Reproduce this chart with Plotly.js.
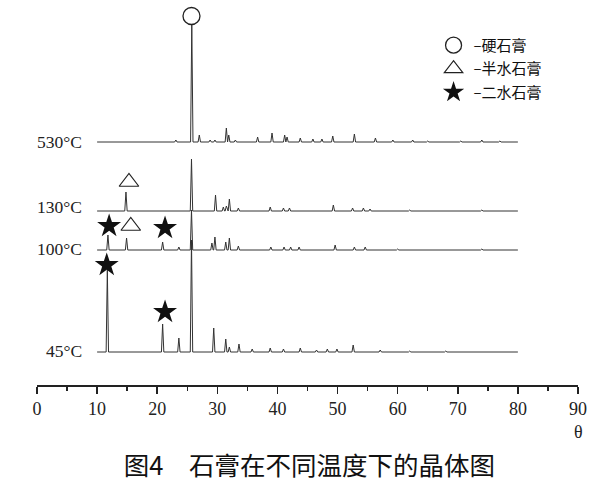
<!DOCTYPE html>
<html><head><meta charset="utf-8">
<script src="https://cdn.plot.ly/plotly-3.0.1.min.js"></script>
<style>body{margin:0;background:#fff}#chart{width:596px;height:490px}</style>
</head><body><div id="chart"></div>
<script>
// Series labels
const seriesNames = ['45°C', '100°C', '130°C', '530°C'];
// 2θ range covered by each scan
const thetaStart = 10, thetaEnd = 80;
// Peak positions (2θ) and peak heights above each pattern's baseline
const peaks45Theta  = [11.7, 20.9, 23.6, 25.7, 29.4, 31.4, 32.0, 33.6, 35.8, 38.8, 41.0, 43.8, 46.5, 48.3, 49.9, 52.6, 57.1, 62.0, 68.0];
const peaks45Int    = [82,   28,   14,   112,  24,   13,   5,    8,    3,    4,    3,    4,    2,    3,    3,    7,    2,    1,    1];
const peaks100Theta = [11.8, 14.9, 20.9, 23.6, 25.7, 29.1, 29.6, 31.4, 32.0, 33.5, 38.9, 41.1, 42.2, 43.6, 49.6, 52.8, 54.6, 60.0, 74.0];
const peaks100Int   = [15,   12,   8,    3,    40,   7,    13,   8,    12,   4,    3,    3,    3,    3,    5,    3,    3,    1,    1];
const peaks130Theta = [14.8, 25.7, 29.7, 31.0, 31.5, 32.0, 33.5, 38.8, 41.0, 42.0, 49.3, 52.5, 54.3, 55.4, 62.0, 74.0];
const peaks130Int   = [19,   52,   16,   4,    5,    12,   3,    4,    3,    3,    6,    3,    3,    2,    1,    1];
const peaks530Theta = [23.1, 25.75, 27.0, 28.8, 29.6, 31.5, 31.9, 33.0, 36.7, 39.1, 41.2, 41.6, 43.8, 45.9, 47.4, 49.2, 52.8, 56.3, 59.2, 62.5, 65.0, 70.5, 74.0, 77.0];
const peaks530Int   = [2,    118,   7,    2,    2,    14,   7,    2,    5,    9,    7,    5,    4,    3,    3,    6,    8,    4,    2,    2,    1,    1,    2,    1];
// Phase markers above peaks: 2θ and height on the same vertical scale
const anhydriteTheta = [25.7];
const anhydriteY     = [369];
const hemihydrateTheta = [15.3, 15.6];
const hemihydrateY     = [203, 159];
const dihydrateTheta = [12.0, 21.3, 11.6, 21.3];
const dihydrateY     = [159, 157, 120, 73];
const phaseNames = ['–硬石膏', '–半水石膏', '–二水石膏'];
const xTickVals = [0, 10, 20, 30, 40, 50, 60, 70, 80, 90];

// layout constants (vertical offset of each pattern baseline)
const offsets = [33, 135, 174, 243];
const labelY  = [34, 136, 178, 243];
const halfW = 0.2;

function buildLine(th, it, off) {
  const xs = [thetaStart], ys = [off];
  for (let i = 0; i < th.length; i++) {
    xs.push(th[i] - halfW, th[i], th[i] + halfW);
    ys.push(off, off + it[i], off);
  }
  xs.push(thetaEnd); ys.push(off);
  return {x: xs, y: ys};
}
const sets = [[peaks45Theta, peaks45Int], [peaks100Theta, peaks100Int], [peaks130Theta, peaks130Int], [peaks530Theta, peaks530Int]];
const traces = sets.map((s, i) => {
  const l = buildLine(s[0], s[1], offsets[i]);
  return {x: l.x, y: l.y, type: 'scatter', mode: 'lines', name: seriesNames[i], showlegend: false,
    line: {color: '#333', width: 1}, hoverinfo: 'skip'};
});
traces.push({x: anhydriteTheta, y: anhydriteY, type: 'scatter', mode: 'markers', name: phaseNames[0], legendgroup: 'a',
  marker: {symbol: 'circle-open', size: 17, color: '#222', line: {width: 1.3, color: '#222'}}});
traces.push({x: hemihydrateTheta, y: hemihydrateY, type: 'scatter', mode: 'markers', name: phaseNames[1], legendgroup: 'b',
  marker: {symbol: 'triangle-up-open', size: 17, color: '#222', line: {width: 1.2, color: '#222'}}});
traces.push({x: dihydrateTheta, y: dihydrateY, type: 'scatter', mode: 'markers', name: phaseNames[2], legendgroup: 'c',
  marker: {symbol: 'star', size: 18, color: '#111', line: {width: 0}}});

const serif = 'Liberation Serif, Times New Roman, serif';
const cjk = 'Noto Sans CJK SC, sans-serif';
const annotations = seriesNames.map((n, i) => ({
  x: 7.85, y: labelY[i], xref: 'x', yref: 'y', text: n, showarrow: false, xanchor: 'right', yanchor: 'middle',
  font: {family: serif, size: 17.5, color: '#222'}
}));
annotations.push({x: 1, y: -47/385, xref: 'paper', yref: 'paper', text: 'θ', showarrow: false,
  xanchor: 'center', yanchor: 'middle', font: {family: serif, size: 18, color: '#222'}});

const layout = {
  width: 596, height: 490,
  margin: {l: 37, r: 18, t: 0, b: 105},
  paper_bgcolor: '#fff', plot_bgcolor: '#fff',
  title: {text: '图4　石膏在不同温度下的晶体图', x: 0.519, xanchor: 'center', xref: 'container',
    y: 1 - 466/490, yref: 'container', yanchor: 'middle', font: {family: cjk, size: 25.5, color: '#111'}},
  xaxis: {range: [0, 90], tickvals: xTickVals, showline: true, linecolor: '#222', linewidth: 1.5,
    ticks: 'outside', ticklen: 7, tickwidth: 1.5, tickcolor: '#222', showgrid: false, zeroline: false,
    minor: {dtick: 5, tick0: 0, ticks: 'outside', ticklen: 4, tickwidth: 1.5, tickcolor: '#222', showgrid: false},
    tickfont: {family: serif, size: 18, color: '#222'}, fixedrange: true},
  yaxis: {range: [0, 385], visible: false, fixedrange: true},
  showlegend: true,
  legend: {x: 0.733, y: 0.925, xanchor: 'left', yanchor: 'top', bgcolor: 'rgba(0,0,0,0)', tracegroupgap: 1,
    font: {family: cjk, size: 15, color: '#111'}},
  annotations: annotations
};
Plotly.newPlot('chart', traces, layout, {displayModeBar: false, staticPlot: true});
</script></body></html>
